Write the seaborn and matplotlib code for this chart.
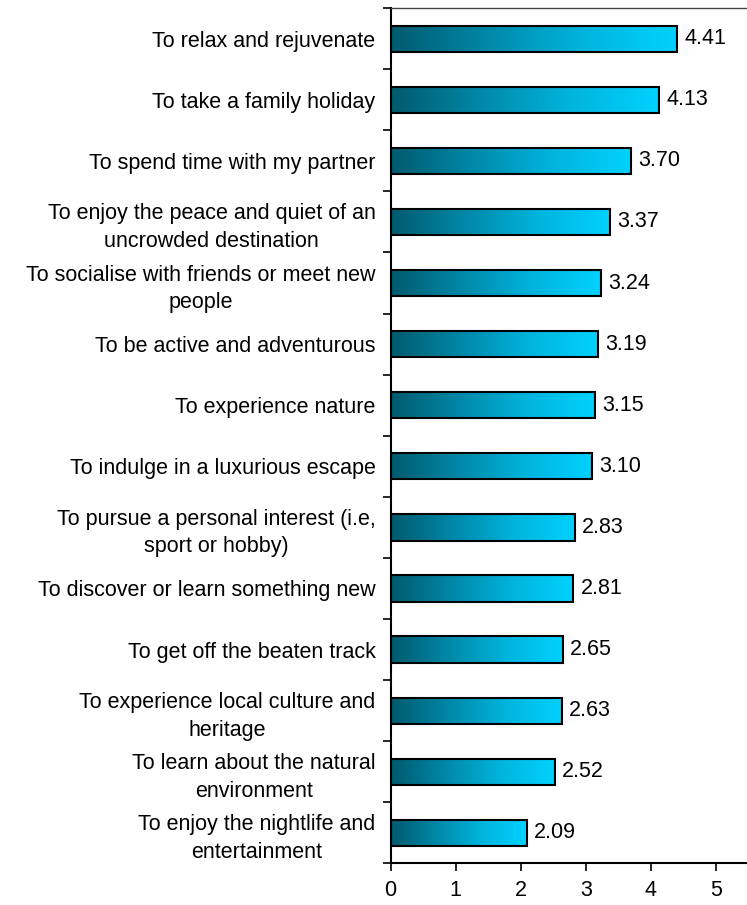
import numpy as np
import pandas as pd
import matplotlib
matplotlib.use("Agg")
import matplotlib.pyplot as plt
from matplotlib.colors import LinearSegmentedColormap
import seaborn as sns

reasons = [
    "To relax and rejuvenate",
    "To take a family holiday",
    "To spend time with my partner",
    "To enjoy the peace and quiet of an\nuncrowded destination",
    "To socialise with friends or meet new\npeople",
    "To be active and adventurous",
    "To experience nature",
    "To indulge in a luxurious escape",
    "To pursue a personal interest (i.e,\nsport or hobby)",
    "To discover or learn something new",
    "To get off the beaten track",
    "To experience local culture and\nheritage",
    "To learn about the natural\nenvironment",
    "To enjoy the nightlife and\nentertainment",
]
scores = [4.41, 4.13, 3.70, 3.37, 3.24, 3.19, 3.15, 3.10, 2.83, 2.81, 2.65, 2.63, 2.52, 2.09]
x_ticks = [0, 1, 2, 3, 4, 5]

df = pd.DataFrame({"reason": reasons, "score": scores})

sns.set_style("white")
plt.rcParams["font.family"] = ["Liberation Sans", "DejaVu Sans"]
plt.rcParams["text.color"] = "black"
plt.rcParams["xtick.color"] = "black"
plt.rcParams["ytick.color"] = "black"

FS = 15.5

fig = plt.figure(figsize=(7.47, 9.05), dpi=100)
ax = fig.add_axes([0.523, 0.046, 0.477, 0.945])

sns.barplot(data=df, x="score", y="reason", orient="h", ax=ax,
            width=0.43, color="#0090b0", saturation=1)

cmap = LinearSegmentedColormap.from_list("teal", ["#005a6e", "#0088a8", "#00b4dc", "#00d2ff"])
grad = np.linspace(0, 1, 256).reshape(1, -1)

for patch, val in zip(ax.patches, scores):
    x0, y0 = patch.get_x(), patch.get_y()
    w, h = patch.get_width(), patch.get_height()
    im = ax.imshow(grad, cmap=cmap, aspect="auto", extent=[x0, x0 + w, y0 + h, y0],
                   zorder=2, interpolation="bicubic")
    im.set_clip_path(patch)
    patch.set_facecolor("none")
    patch.set_edgecolor("black")
    patch.set_linewidth(1.5)
    patch.set_zorder(3)
    ax.text(x0 + w + 0.11, y0 + h / 2, f"{val:.2f}", va="center", ha="left",
            fontsize=FS, color="black")

ax.set_xlim(0, 5.48)
ax.set_ylim(len(reasons) - 0.5, -0.5)
ax.set_xticks(x_ticks)
ax.set_xticklabels([str(t) for t in x_ticks], fontsize=FS)
ax.set_xlabel("")
ax.set_ylabel("")

ax.set_yticks(range(len(reasons)))
ax.set_yticklabels(reasons, fontsize=FS, multialignment="center", color="black",
                   linespacing=1.4)
ax.set_yticks(np.arange(-0.5, len(reasons), 1.0), minor=True)
ax.tick_params(axis="y", which="major", left=True, length=0, pad=11)
ax.tick_params(axis="y", which="minor", left=True, length=6, width=1.2,
               direction="out", color="black")
ax.tick_params(axis="x", which="major", bottom=True, length=6, width=1.2,
               direction="out", color="black", pad=6, labelcolor="black")

ax.spines["right"].set_visible(False)
ax.spines["top"].set_color("#444444")
ax.spines["top"].set_linewidth(1.0)
for side in ["left", "bottom"]:
    ax.spines[side].set_color("black")
    ax.spines[side].set_linewidth(1.5)

fig.savefig("out.png", dpi=100)
